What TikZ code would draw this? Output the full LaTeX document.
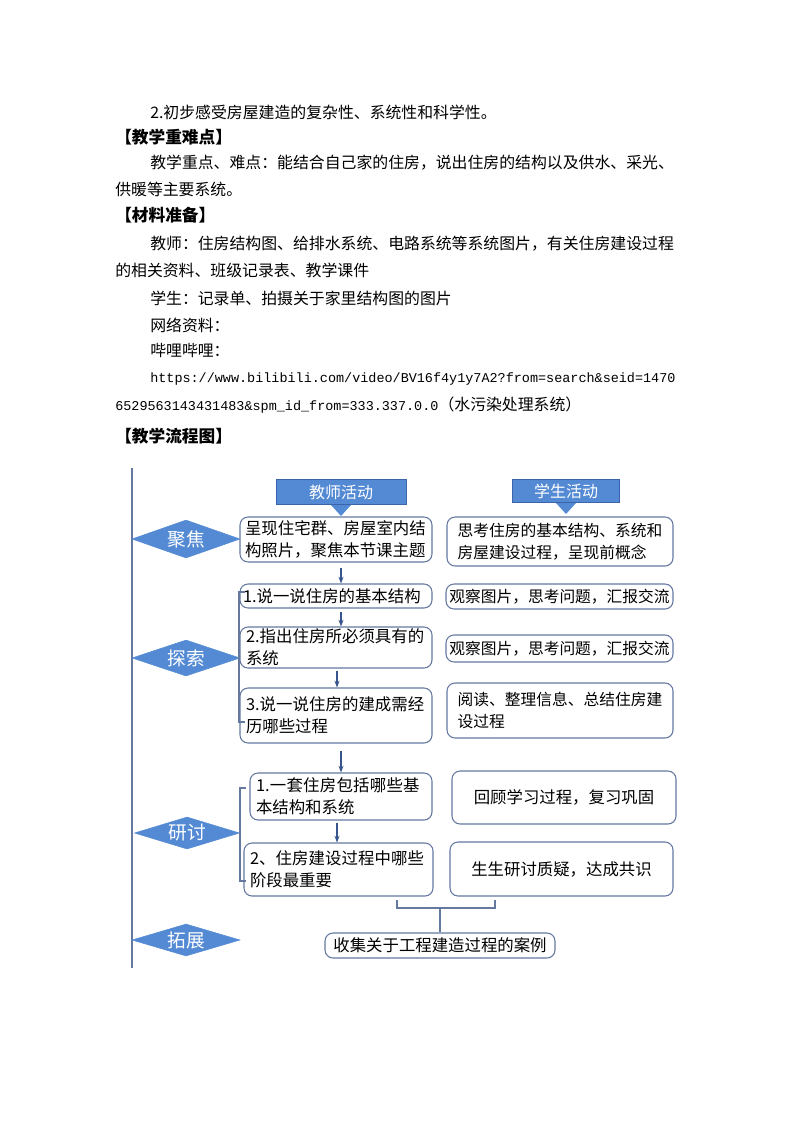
\documentclass[tikz,border=0pt]{standalone}
\usepackage{fontspec}
\usepackage{tikz}
\usetikzlibrary{shapes.geometric, arrows.meta, positioning, calc}
\newfontfamily\cjk{Noto Sans CJK SC}
\newfontfamily\cjkmono{Liberation Mono}
\XeTeXlinebreaklocale "zh"
\XeTeXlinebreakskip=0pt plus 1pt
\definecolor{flowblue}{RGB}{84, 138, 212}
\definecolor{flowedge}{RGB}{60, 100, 170}
\definecolor{flowline}{RGB}{100, 120, 160}
\definecolor{flowarrow}{RGB}{55, 85, 140}
\newcommand{\pxu}{0.75pt}

\begin{document}
\begin{tikzpicture}[x=0.75pt, y=-0.75pt,
		bodytext/.style={anchor=west, inner sep=0pt, font=\cjk\fontsize{11.9}{14}\selectfont},
		headtext/.style={anchor=west, inner sep=0pt, font=\cjk\bfseries\fontsize{12.5}{14}\selectfont},
		stage/.style={diamond, aspect=3.3, fill=flowblue, draw=flowblue, inner sep=1pt, text=white, font=\cjk\fontsize{14}{16}\selectfont},
		rolebox/.style={rectangle, fill=flowblue, draw=flowedge, text=white, inner sep=0pt, font=\cjk\fontsize{12}{14}\selectfont},
		stepbox/.style={rectangle, rounded corners=6pt, draw=flowline, line width=0.8pt, inner sep=0pt, align=left, font=\cjk\fontsize{12.3}{16.5}\selectfont},
		flow/.style={-{Stealth[length=5pt]}, flowarrow, line width=0.8pt}]
	\useasboundingbox (0,0) rectangle (794,1123);

	% Text above the chart
	\node[bodytext] (l1) at (150,112) {2.初步感受房屋建造的复杂性、系统性和科学性。};
	\node[headtext] (h1) at (115,137) {【教学重难点】};
	\node[bodytext] (l2) at (150,163) {教学重点、难点：能结合自己家的住房，说出住房的结构以及供水、采光、};
	\node[bodytext] (l3) at (115,189) {供暖等主要系统。};
	\node[headtext] (h2) at (115,215) {【材料准备】};
	\node[bodytext] (l4) at (150,244) {教师：住房结构图、给排水系统、电路系统等系统图片，有关住房建设过程};
	\node[bodytext] (l5) at (115,270) {的相关资料、班级记录表、教学课件};
	\node[bodytext] (l6) at (150,298) {学生：记录单、拍摄关于家里结构图的图片};
	\node[bodytext] (l7) at (150,325) {网络资料：};
	\node[bodytext] (l8) at (150,351) {哔哩哔哩：};
	\node[bodytext, font=\cjkmono\fontsize{10.1}{12}\selectfont] (l9) at (150,379) {https://www.bilibili.com/video/BV16f4y1y7A2?from=search\&seid=1470};
	\node[bodytext] (l10) at (115,405) {{\cjkmono\fontsize{10.1}{12}\selectfont 6529563143431483\&spm\_id\_from=333.337.0.0}（水污染处理系统）};
	\node[headtext] (h3) at (115,436) {【教学流程图】};

	% Time line and stages
	\coordinate (lt) at (132,468);
	\coordinate (lb) at (132,968);
	\draw[flowline, line width=0.8pt] (lt) -- (lb);
	\node[stage, minimum width=108*\pxu, minimum height=38*\pxu] (focus) at (186,539) {聚焦};
	\node[stage, minimum width=108*\pxu, minimum height=36*\pxu] (explore) at (186,658) {探索};
	\node[stage, minimum width=105*\pxu, minimum height=32*\pxu] (discuss) at (187,833) {研讨};
	\node[stage, minimum width=108*\pxu, minimum height=32*\pxu] (extend) at (186,940) {拓展};

	% Role headers
	\node[rolebox, minimum width=130*\pxu, minimum height=25*\pxu] (teacher) at (341,492) {教师活动};
	\node[rolebox, minimum width=107*\pxu, minimum height=23*\pxu] (student) at (566,491) {学生活动};
	\fill[flowblue] (331,505) -- (351,505) -- (341,516) -- cycle;
	\fill[flowblue] (556,503) -- (576,503) -- (566,514) -- cycle;

	% Teacher activities
	\node[stepbox, minimum width=192*\pxu, minimum height=45*\pxu, text width=182*\pxu] (t1) at (336,539.5) {呈现住宅群、房屋室内结构照片，聚焦本节课主题};
	\node[stepbox, minimum width=192*\pxu, minimum height=24*\pxu, text width=186*\pxu] (t2) at (336,596) {1.说一说住房的基本结构};
	\node[stepbox, minimum width=192*\pxu, minimum height=41*\pxu, text width=180*\pxu] (t3) at (336,647.5) {2.指出住房所必须具有的系统};
	\node[stepbox, minimum width=192*\pxu, minimum height=55*\pxu, text width=180*\pxu] (t4) at (336,715.5) {3.说一说住房的建成需经历哪些过程};
	\node[stepbox, minimum width=182*\pxu, minimum height=47*\pxu, text width=170*\pxu] (t5) at (341,796.5) {1.一套住房包括哪些基本结构和系统};
	\node[stepbox, minimum width=189*\pxu, minimum height=53*\pxu, text width=177*\pxu] (t6) at (338.5,869.5) {2、住房建设过程中哪些阶段最重要};

	% Student activities
	\node[stepbox, minimum width=226*\pxu, minimum height=49*\pxu, font=\cjk\fontsize{11.8}{16.5}\selectfont] (s1) at (560,541.5) {思考住房的基本结构、系统和\\房屋建设过程，呈现前概念\hspace{2.5em}};
	\node[stepbox, minimum width=227*\pxu, minimum height=25*\pxu, font=\cjk\fontsize{11.8}{14}\selectfont] (s2) at (559.5,596.5) {观察图片，思考问题，汇报交流};
	\node[stepbox, minimum width=227*\pxu, minimum height=27*\pxu, font=\cjk\fontsize{11.8}{14}\selectfont] (s3) at (559.5,648.5) {观察图片，思考问题，汇报交流};
	\node[stepbox, minimum width=226*\pxu, minimum height=55*\pxu, font=\cjk\fontsize{11.8}{16.5}\selectfont] (s4) at (560,710.5) {阅读、整理信息、总结住房建\\设过程\hspace{10em}};
	\node[stepbox, minimum width=224*\pxu, minimum height=53*\pxu, align=center] (s5) at (564,797.5) {回顾学习过程，复习巩固};
	\node[stepbox, minimum width=223*\pxu, minimum height=54*\pxu, align=center] (s6) at (561.5,869) {生生研讨质疑，达成共识};

	% Extension
	\node[stepbox, minimum width=230*\pxu, minimum height=25*\pxu, align=center] (ext) at (440,945.5) {收集关于工程建造过程的案例};

	% Arrows
	\draw[flow] (t1.south -| 341,0) ++(0,5) -- (t2.north -| 341,0);
	\draw[flow] (t2.south -| 341,0) ++(0,3) -- (t3.north -| 341,0);
	\draw[flow] (t3.south -| 337,0) ++(0,2) -- (t4.north -| 337,0);
	\draw[flow] (t4.south -| 341,0) ++(0,7) -- (t5.north -| 341,0);
	\draw[flow] (t5.south -| 337,0) ++(0,2) -- (t6.north -| 337,0);

	% Brackets
	\draw[flowline, line width=0.8pt] (245,592) -- (239,592) -- (239,722) -- (245,722);
	\draw[flowline, line width=0.8pt] (explore.east) -- (239,658);
	\draw[flowline, line width=0.8pt] (246,788) -- (240,788) -- (240,881) -- (246,881);
	\draw[flowline, line width=0.8pt] (discuss.east) -- (240,833);
	\draw[flowline, line width=0.8pt] (397,900) -- (397,908) -- (495,908) -- (495,900);
	\draw[flowline, line width=0.8pt] (440,908) -- (ext.north);
\end{tikzpicture}
\end{document}
